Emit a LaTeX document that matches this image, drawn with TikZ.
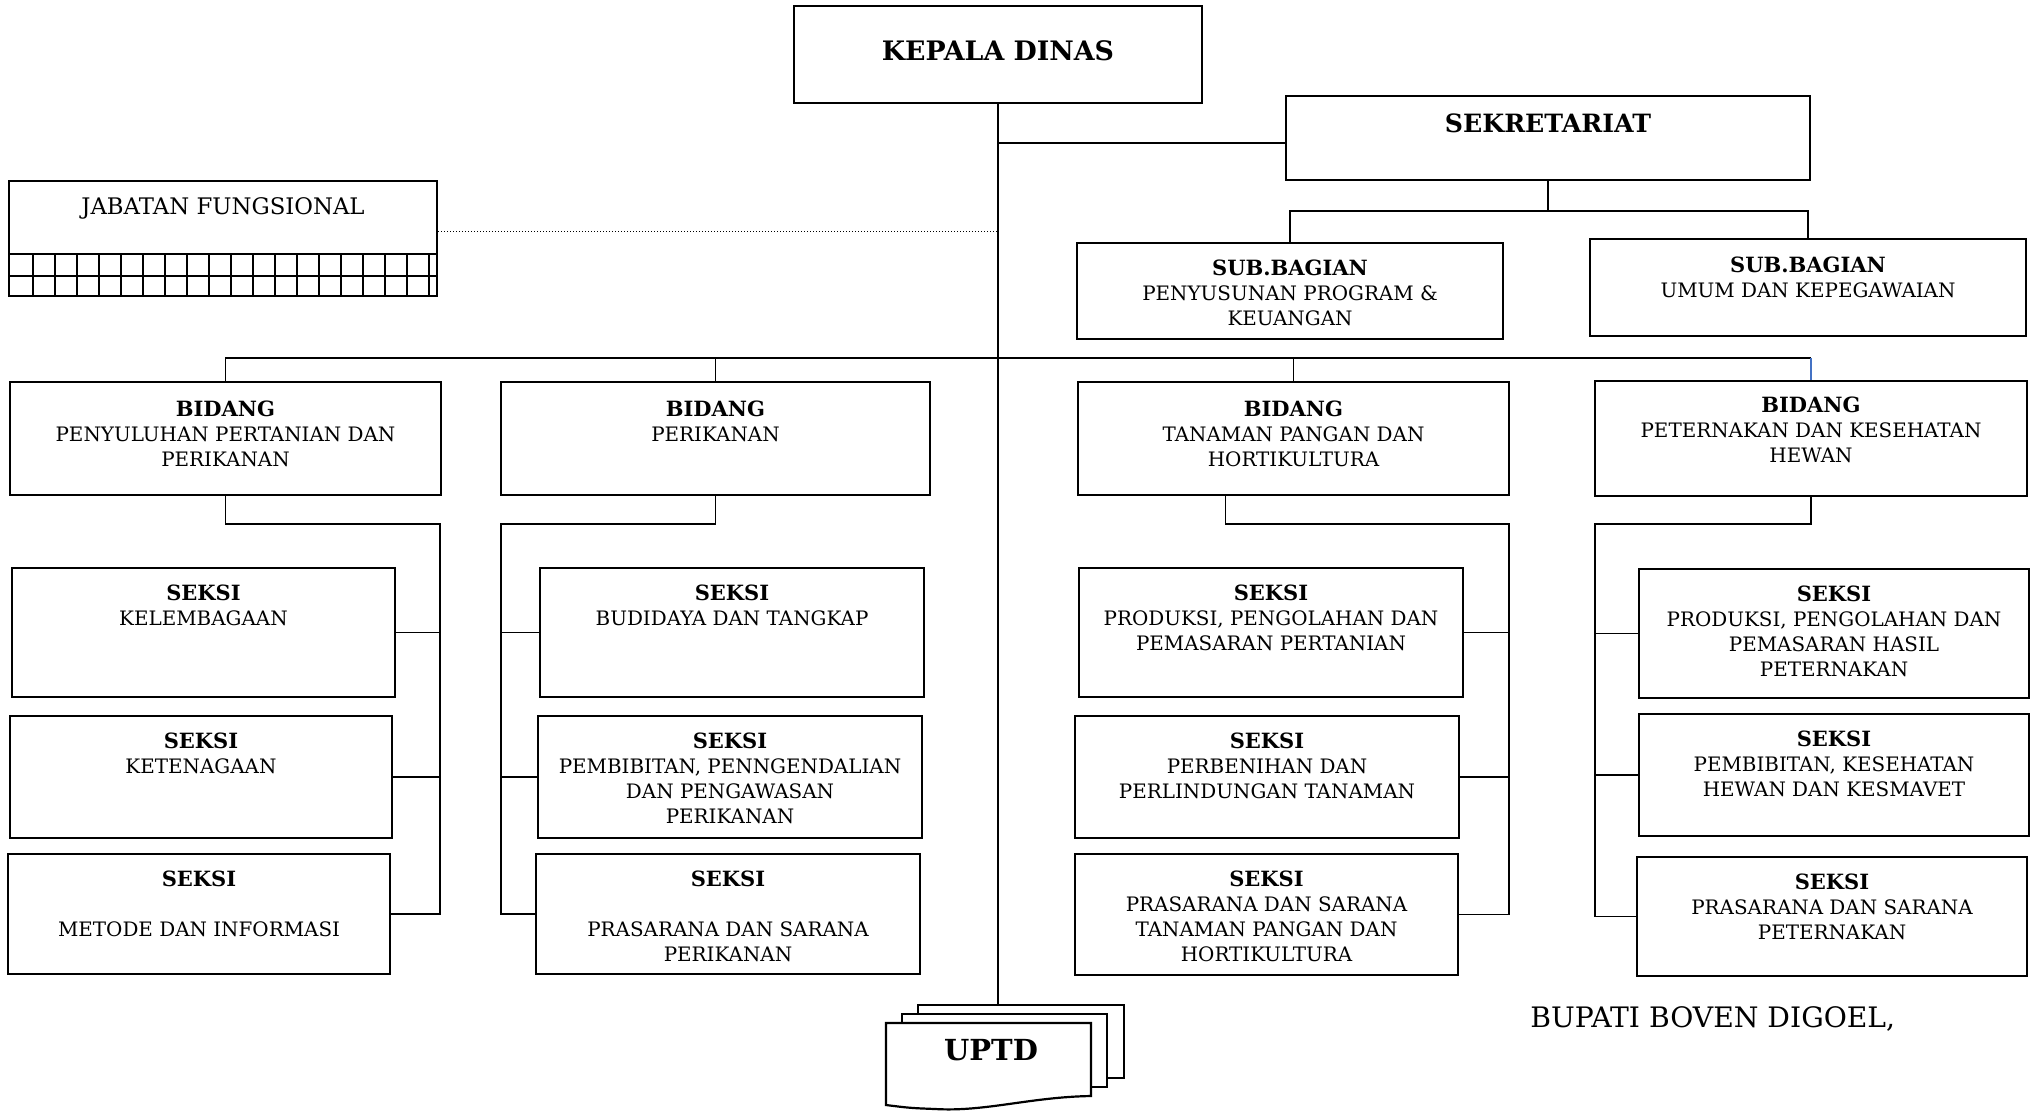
\documentclass[tikz,border=0pt]{standalone}
\usepackage{fontspec}
\setmainfont{DejaVu Serif}
\usetikzlibrary{positioning,fit}
\definecolor{linkblue}{RGB}{68,114,196}

\tikzset{
  box/.style={draw, line width=1.1pt, inner sep=0pt, fill=white},
  boxtext/.style={align=center, inner sep=0pt, font=\fontsize{9.95}{12.5}\selectfont},
  link/.style={line width=0.8pt},
  gridline/.style={line width=1pt},
}
\newcommand{\head}[1]{{\fontsize{10.5}{12.5}\selectfont\bfseries #1}}
% box between two corners, text hung from its top edge
\newcommand{\orgunit}[5][9pt]{%
  \node[box, fit={#3 #4}] (#2) {};
  \node[boxtext, below=#1 of #2.north] (#2-t) {#5};
}

\begin{document}
\begin{tikzpicture}[x=0.5pt,y=-0.5pt]
    \useasboundingbox (0,0) rectangle (2034,1110);

    % top
    \node[box, fit={(794,6) (1202,103)}] (kepala) {};
    \node[below=17.5pt of kepala.north, inner sep=0pt, font=\fontsize{13.4}{15}\selectfont\bfseries] (kepala-t) {KEPALA DINAS};
    \orgunit[9pt]{sek}{(1286,96)}{(1810,180)}{{\fontsize{12.6}{14}\selectfont\bfseries SEKRETARIAT}}
    \orgunit{sub1}{(1077,243)}{(1503,339)}{\head{SUB.BAGIAN}\\ PENYUSUNAN PROGRAM \&\\ KEUANGAN}
    \orgunit[9.5pt]{sub2}{(1590,239)}{(2026,336)}{\head{SUB.BAGIAN}\\ UMUM DAN KEPEGAWAIAN}

    % jabatan fungsional with its grid
    \orgunit[8.5pt]{jab}{(9,181)}{(437,296)}{\fontsize{11.4}{13}\selectfont JABATAN FUNGSIONAL}
    \draw[gridline] (9,254) -- (437,254) (9,276) -- (437,276);
    \foreach \i in {0,...,18}
        \draw[gridline] (33.3+22*\i,254) -- (33.3+22*\i,296);

    % bidang
    \orgunit[10pt]{bid1}{(10,382)}{(441,495)}{\head{BIDANG}\\ PENYULUHAN PERTANIAN DAN\\ PERIKANAN}
    \orgunit[10pt]{bid2}{(501,382)}{(930,495)}{\head{BIDANG}\\ PERIKANAN}
    \orgunit[10pt]{bid3}{(1078,382)}{(1509,495)}{\head{BIDANG}\\ TANAMAN PANGAN DAN\\ HORTIKULTURA}
    \orgunit[8.5pt]{bid4}{(1595,381)}{(2027,496)}{\head{BIDANG}\\ PETERNAKAN DAN KESEHATAN\\ HEWAN}

    % seksi
    \orgunit{s11}{(12,568)}{(395,697)}{\head{SEKSI}\\ KELEMBAGAAN}
    \orgunit{s12}{(10,716)}{(392,838)}{\head{SEKSI}\\ KETENAGAAN}
    \orgunit{s13}{(8,854)}{(390,974)}{\head{SEKSI}\\ ~\\ METODE DAN INFORMASI}

    \orgunit{s21}{(540,568)}{(924,697)}{\head{SEKSI}\\ BUDIDAYA DAN TANGKAP}
    \orgunit{s22}{(538,716)}{(922,838)}{\head{SEKSI}\\ PEMBIBITAN, PENNGENDALIAN\\ DAN PENGAWASAN\\ PERIKANAN}
    \orgunit{s23}{(536,854)}{(920,974)}{\head{SEKSI}\\ ~\\ PRASARANA DAN SARANA\\ PERIKANAN}

    \orgunit{s31}{(1079,568)}{(1463,697)}{\head{SEKSI}\\ PRODUKSI, PENGOLAHAN DAN\\ PEMASARAN PERTANIAN}
    \orgunit{s32}{(1075,716)}{(1459,838)}{\head{SEKSI}\\ PERBENIHAN DAN\\ PERLINDUNGAN TANAMAN}
    \orgunit{s33}{(1075,854)}{(1458,975)}{\head{SEKSI}\\ PRASARANA DAN SARANA\\ TANAMAN PANGAN DAN\\ HORTIKULTURA}

    \orgunit{s41}{(1639,569)}{(2029,698)}{\head{SEKSI}\\ PRODUKSI, PENGOLAHAN DAN\\ PEMASARAN HASIL\\ PETERNAKAN}
    \orgunit{s42}{(1639,714)}{(2029,836)}{\head{SEKSI}\\ PEMBIBITAN, KESEHATAN\\ HEWAN DAN KESMAVET}
    \orgunit{s43}{(1637,857)}{(2027,976)}{\head{SEKSI}\\ PRASARANA DAN SARANA\\ PETERNAKAN}

    % uptd, three sheets
    \node[box, fit={(918,1005) (1124,1078)}] (uptd3) {};
    \node[box, fit={(902,1014) (1107,1087)}] (uptd2) {};
    \draw[box] (886,1023) -- (1091,1023) -- (1091,1096)
        .. controls (1030,1097) and (985,1112) .. (935,1109)
        .. controls (910,1108) .. (886,1105) -- cycle;
    \node[below=8pt, inner sep=0pt, font=\fontsize{14.5}{16}\selectfont\bfseries] (uptd) at (991,1023) {UPTD};

    \node[anchor=west, inner sep=0pt, font=\fontsize{14.1}{16}\selectfont] (bupati) at (1530,1019) {BUPATI BOVEN DIGOEL,};

    % connectors
    \draw[link] (kepala.south) -- (kepala.south |- uptd3.north);
    \draw[link] ([yshift=-2.5pt]sek.west) -- ([yshift=-2.5pt]sek.west -| kepala.south);
    \draw[link] (sek.south) -- ++(0,30) -| (sub1.north);
    \draw[link] (sek.south) -- ++(0,30) -| (sub2.north);
    \draw[line width=0.5pt, dash pattern=on 0.6pt off 0.9pt] ([yshift=3.5pt]jab.east) -- ([yshift=3.5pt]jab.east -| kepala.south);

    \coordinate (bar) at (0,358);
    \draw[link] (bid1.north) |- (bid4.north |- bar);
    \draw[link] (bid2.north) -- (bid2.north |- bar);
    \draw[link] (bid3.north) -- (bid3.north |- bar);
    \draw[link, color=linkblue] (bid4.north |- bar) -- (bid4.north);

    \coordinate (r1) at (440,524);
    \coordinate (r2) at (501,524);
    \coordinate (r3) at (1509,524);
    \coordinate (r4) at (1595,524);
    \draw[link] (bid1.south) |- (r1) |- (s13.east);
    \draw[link] (bid2.south) |- (r2) |- (s23.west);
    \draw[link] ([xshift=-34pt]bid3.south) |- (r3) |- (s33.east);
    \draw[link] (bid4.south) |- (r4) |- (s43.west);
    \foreach \s in {s11,s12} \draw[link] (\s.east) -- (\s.east -| r1);
    \foreach \s in {s21,s22} \draw[link] (\s.west) -- (\s.west -| r2);
    \foreach \s in {s31,s32} \draw[link] (\s.east) -- (\s.east -| r3);
    \foreach \s in {s41,s42} \draw[link] (\s.west) -- (\s.west -| r4);

\end{tikzpicture}
\end{document}
